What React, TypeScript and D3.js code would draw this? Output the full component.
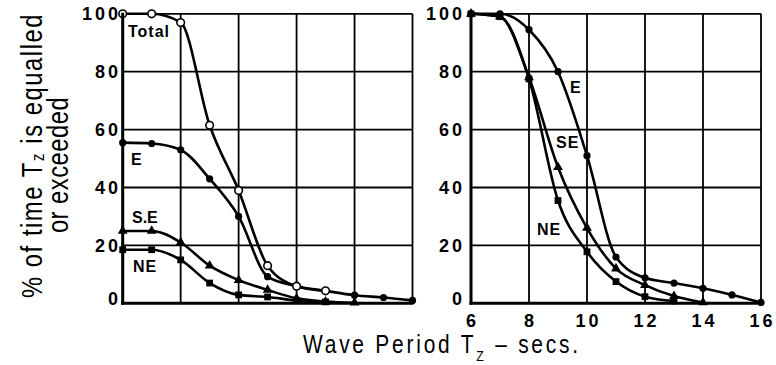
import React from "react";
import * as d3 from "d3";

// Wave period (s) at which each series is sampled
const periods = [6, 7, 8, 9, 10, 11, 12, 13, 14, 15, 16];
const yTicks = [0, 20, 40, 60, 80, 100];
const xTicks = [6, 8, 10, 12, 14, 16];
const xTickLabels = ["6", "8", "10", "12", "14", "16"];

// Left panel: % of time exceeded
const leftTotal = [100, 100, 97, 61.5, 39, 13, 5.9, 4.3];
const leftE = [55.5, 55.2, 53, 43, 30, 9.2, 5.9, 4.3, 2.8, 2, 1];
const leftSE = [25, 25, 21, 13, 8, 4.6, 1.7, 0.6, 0.2];
const leftNE = [18.5, 18.5, 15, 7, 2.9, 2.2, 1, 0.5];

// Right panel: % of time exceeded, by direction
const rightE = [100, 100, 94.5, 80, 51, 16, 8.8, 7, 5.2, 2.9, 0.3];
const rightSE = [100, 99, 78, 47, 26, 12, 6.3, 2.5, 0.3];
const rightNE = [100, 99, 77.5, 35.5, 17.8, 7.5, 2.3, 0.8];

type Marker = "open" | "dot" | "tri" | "sq";

interface Series {
  values: number[];
  marker: Marker;
}

const TICK_FONT = "'Liberation Sans', Arial, sans-serif";
const TITLE_FONT = "'Liberation Sans', Arial, sans-serif";

const Y0 = 303.3;
const Y1 = 13.8;

function Panel({
  x0,
  x1,
  series,
  showXLabels,
  labelRight,
}: {
  x0: number;
  x1: number;
  series: Series[];
  showXLabels: boolean;
  labelRight: number;
}) {
  const x = d3.scaleLinear().domain([6, 16]).range([x0, x1]);
  const y = d3.scaleLinear().domain([0, 100]).range([Y0, Y1]);
  const line = d3
    .line<[number, number]>()
    .x((d) => x(d[0]))
    .y((d) => y(d[1]))
    .curve(d3.curveMonotoneX);

  const triPath = d3.symbol().type(d3.symbolTriangle).size(42)() as string;
  const sqPath = d3.symbol().type(d3.symbolSquare).size(46)() as string;

  const gridX = xTicks.slice(1, -1);
  const gridY = yTicks.slice(1);

  return (
    <g>
      {/* grid */}
      {gridX.map((t) => (
        <line key={"gx" + t} x1={x(t)} x2={x(t)} y1={y(0)} y2={y(100)} stroke="#000" strokeWidth={1.8} />
      ))}
      <line x1={x(16)} x2={x(16)} y1={y(0)} y2={y(100)} stroke="#000" strokeWidth={1.8} />
      {gridY.map((t) => (
        <line key={"gy" + t} x1={x(6)} x2={x(16)} y1={y(t)} y2={y(t)} stroke="#000" strokeWidth={1.8} />
      ))}

      {/* curves */}
      {series.map((s, i) => (
        <path
          key={"l" + i}
          d={line(s.values.map((v, j) => [periods[j], v]) as [number, number][]) as string}
          fill="none"
          stroke="#000"
          strokeWidth={2.6}
        />
      ))}

      {/* markers */}
      {series.map((s, i) => (
        <g key={"m" + i}>
          {s.values.map((v, j) => {
            const cx = x(periods[j]);
            const cy = y(v);
            if (s.marker === "open")
              return <circle key={j} cx={cx} cy={cy} r={3.8} fill="#fff" stroke="#000" strokeWidth={1.6} />;
            if (s.marker === "dot") return <circle key={j} cx={cx} cy={cy} r={3.6} fill="#000" />;
            if (s.marker === "tri")
              return <path key={j} d={triPath} transform={`translate(${cx},${cy})`} fill="#000" />;
            return <path key={j} d={sqPath} transform={`translate(${cx},${cy})`} fill="#000" />;
          })}
        </g>
      ))}

      {/* axes */}
      <line x1={x(6)} x2={x(6)} y1={y(0) + 1.5} y2={y(100) - 1} stroke="#000" strokeWidth={3} />
      <line x1={x(6) - 1.5} x2={x(16) + 1} y1={y(0)} y2={y(0)} stroke="#000" strokeWidth={3} />

      {/* y tick labels */}
      {yTicks.map((t) => (
        <text
          key={"yt" + t}
          x={labelRight}
          y={y(t) + (t === 0 ? -4.5 : 0)}
          dy="0.35em"
          textAnchor="end"
          fontFamily={TICK_FONT}
          fontWeight="bold"
          fontSize={18}
          letterSpacing={3}
        >
          {t}
        </text>
      ))}

      {showXLabels &&
        xTicks.map((t, i) => (
          <text
            key={"xt" + t}
            x={x(t) + 1.5}
            y={326.7}
            textAnchor="middle"
            fontFamily={TICK_FONT}
            fontWeight="bold"
            fontSize={18}
            letterSpacing={3}
          >
            {xTickLabels[i]}
          </text>
        ))}
    </g>
  );
}

export default function App() {
  const leftSeries: Series[] = [
    { values: leftNE, marker: "sq" },
    { values: leftSE, marker: "tri" },
    { values: leftE, marker: "dot" },
    { values: leftTotal, marker: "open" },
  ];
  const rightSeries: Series[] = [
    { values: rightE, marker: "dot" },
    { values: rightSE, marker: "tri" },
    { values: rightNE, marker: "sq" },
  ];

  const lab = {
    fontFamily: TICK_FONT,
    fontWeight: "bold" as const,
    fontSize: 16,
    letterSpacing: 1,
  };

  return (
    <svg
      width={776}
      height={365}
      viewBox="0 0 776 365"
      style={{ position: "absolute", left: 0, top: 0, background: "#fff" }}
    >
      <rect x={0} y={0} width={776} height={365} fill="#fff" />
      <Panel x0={122.7} x1={412.5} series={leftSeries} showXLabels={false} labelRight={121} />
      <Panel x0={471} x1={761} series={rightSeries} showXLabels={true} labelRight={465} />

      {/* series labels, left panel */}
      <text x={128} y={37} {...lab}>Total</text>
      <text x={131} y={165} {...lab}>E</text>
      <text x={132} y={222.5} {...lab} letterSpacing={0}>S.E</text>
      <text x={133} y={272} {...lab}>NE</text>

      {/* series labels, right panel */}
      <text x={570} y={92.5} {...lab}>E</text>
      <text x={556} y={147.5} {...lab}>SE</text>
      <text x={537} y={235} {...lab}>NE</text>

      {/* y axis title, condensed horizontally */}
      <g transform="translate(41.7,155.5) rotate(-90) scale(0.82,1)">
        <text x={0} y={0} textAnchor="middle" fontFamily={TITLE_FONT} fontSize={29} letterSpacing={1.9}>
          % of time T
          <tspan fontSize={19} dy={2}>z</tspan>
          <tspan dy={-2}> is equalled</tspan>
        </text>
      </g>
      <g transform="translate(68.3,165) rotate(-90) scale(0.82,1)">
        <text x={0} y={0} textAnchor="middle" fontFamily={TITLE_FONT} fontSize={29} letterSpacing={0.6}>
          or exceeded
        </text>
      </g>

      {/* x axis title, condensed horizontally */}
      <g transform="translate(303,353.3) scale(0.82,1)">
        <text x={0} y={0} fontFamily={TITLE_FONT} fontSize={25.5} letterSpacing={3.4}>
          Wave Period T
          <tspan fontSize={15} dy={8}>Z</tspan>
          <tspan dy={-8}> – secs.</tspan>
        </text>
      </g>
    </svg>
  );
}
